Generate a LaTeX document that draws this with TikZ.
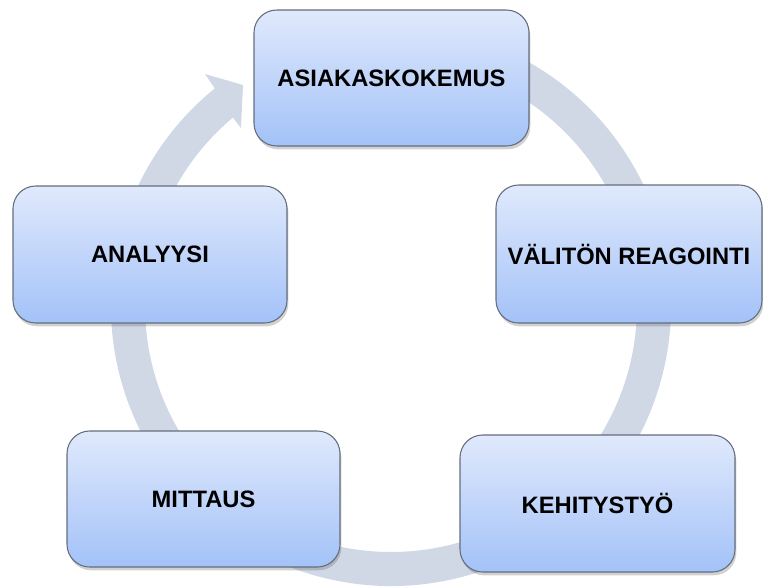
\documentclass[tikz,border=0pt]{standalone}
\usepackage{fontspec}
\setmainfont{Liberation Sans}
\usetikzlibrary{shadows}
\definecolor{ringc}{RGB}{208,215,229}
\definecolor{boxtop}{RGB}{224,233,252}
\definecolor{boxbot}{RGB}{163,194,248}
\definecolor{boxline}{RGB}{100,110,125}
\begin{document}
\begin{tikzpicture}[x=0.75pt,y=-0.75pt,
  stagebox/.style={rectangle, rounded corners=17pt, draw=boxline, line width=0.8pt,
    top color=boxtop, bottom color=boxbot, text=black, inner sep=0pt,
    font=\fontsize{17.8}{20}\selectfont\bfseries,
    drop shadow={shadow xshift=1pt, shadow yshift=-2.5pt, opacity=0.3, fill=black!60}},
  ringstyle/.style={fill=ringc}]
\useasboundingbox (0,0) rectangle (763,586);
\coordinate (c) at (391,306);
\coordinate (barbout) at (205,74);
\coordinate (tip) at (243,85);
\coordinate (barbin) at (241,128);
\fill[ringstyle] ([shift={(-75:280)}]c) arc[start angle=-75, end angle=231, radius=280]
  -- (barbout) -- (tip) -- (barbin)
  -- ([shift={(230:246)}]c) arc[start angle=230, end angle=-75, radius=246] -- cycle;
\node[stagebox, minimum width=206.25pt, minimum height=102pt] (a) at (391.5,78) {ASIAKASKOKEMUS};
\node[stagebox, minimum width=199.5pt, minimum height=103.5pt] (b) at (629,254) {VÄLITÖN REAGOINTI};
\node[stagebox, minimum width=206.25pt, minimum height=102.75pt] (k) at (597.5,503.5) {KEHITYSTYÖ};
\node[stagebox, minimum width=204.75pt, minimum height=102pt] (m) at (203.5,499) {MITTAUS};
\node[stagebox, minimum width=205.5pt, minimum height=102.75pt] (n) at (150,254.5) {ANALYYSI};
\end{tikzpicture}
\end{document}
